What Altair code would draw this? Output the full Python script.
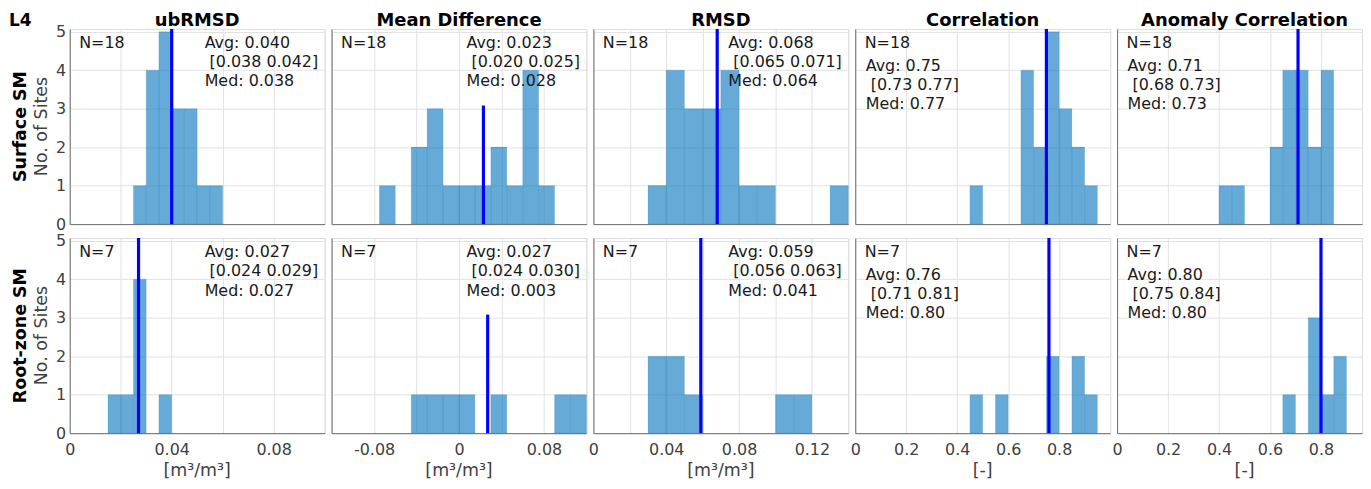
import altair as alt
import pandas as pd

FONT = "DejaVu Sans"
TXT = "#1a1a1a"
TICK = "#404040"
GRID = "#e2e2e2"
AXC = "#707070"
BAR = "#0072BD"
AVGC = "#0000FF"

model_label = "L4"
metrics = ["ubRMSD", "Mean Difference", "RMSD", "Correlation", "Anomaly Correlation"]
rows = ["Surface SM", "Root-zone SM"]
y_title = "No. of Sites"
x_units = ["[m³/m³]", "[m³/m³]", "[m³/m³]", "[-]", "[-]"]

x_domains = [[0, 0.10], [-0.12, 0.12], [0, 0.14], [0, 1.0], [0, 0.961]]
x_grid = [
    [0, 0.02, 0.04, 0.06, 0.08, 0.10],
    [-0.12, -0.08, -0.04, 0, 0.04, 0.08, 0.12],
    [0, 0.02, 0.04, 0.06, 0.08, 0.10, 0.12, 0.14],
    [0, 0.2, 0.4, 0.6, 0.8, 1.0],
    [0, 0.2, 0.4, 0.6, 0.8],
]
x_ticklabels = [
    [0, 0.04, 0.08],
    [-0.08, 0, 0.08],
    [0, 0.04, 0.08, 0.12],
    [0, 0.2, 0.4, 0.6, 0.8],
    [0, 0.2, 0.4, 0.6, 0.8],
]
y_ticks = [0, 1, 2, 3, 4, 5]
y_max = 5.07
bin_widths = [0.005, 0.015, 0.01, 0.05, 0.05]

# Surface SM histograms (bin left edges and counts)
surf_starts = [
    [0.025, 0.030, 0.035, 0.040, 0.045, 0.050, 0.055],
    [-0.075, -0.045, -0.030, -0.015, 0.000, 0.015, 0.030, 0.045, 0.060, 0.075],
    [0.03, 0.04, 0.05, 0.06, 0.07, 0.08, 0.09, 0.13],
    [0.45, 0.65, 0.70, 0.75, 0.80, 0.85, 0.90],
    [0.40, 0.45, 0.60, 0.65, 0.70, 0.75, 0.80],
]
surf_counts = [
    [1, 4, 5, 3, 3, 1, 1],
    [1, 2, 3, 1, 1, 1, 2, 1, 4, 1],
    [1, 4, 3, 3, 4, 1, 1, 1],
    [1, 4, 2, 5, 3, 2, 1],
    [1, 1, 2, 4, 4, 2, 4],
]
# Root-zone SM histograms
root_starts = [
    [0.015, 0.020, 0.025, 0.035],
    [-0.045, -0.030, -0.015, 0.000, 0.030, 0.090, 0.105],
    [0.03, 0.04, 0.05, 0.10, 0.11],
    [0.45, 0.55, 0.75, 0.85, 0.90],
    [0.65, 0.75, 0.80, 0.85],
]
root_counts = [
    [1, 1, 4, 1],
    [1, 1, 1, 1, 1, 1, 1],
    [2, 2, 1, 1, 1],
    [1, 1, 2, 2, 1],
    [1, 3, 1, 2],
]

n_sites = [18, 7]
surf_avg = [0.040, 0.023, 0.068, 0.75, 0.71]
root_avg = [0.027, 0.027, 0.059, 0.76, 0.80]
surf_avg_txt = ["0.040", "0.023", "0.068", "0.75", "0.71"]
surf_ci_txt = ["[0.038 0.042]", "[0.020 0.025]", "[0.065 0.071]", "[0.73 0.77]", "[0.68 0.73]"]
surf_med_txt = ["0.038", "0.028", "0.064", "0.77", "0.73"]
root_avg_txt = ["0.027", "0.027", "0.059", "0.76", "0.80"]
root_ci_txt = ["[0.024 0.029]", "[0.024 0.030]", "[0.056 0.063]", "[0.71 0.81]", "[0.75 0.84]"]
root_med_txt = ["0.027", "0.003", "0.041", "0.80", "0.80"]
avg_line_top = [5.07, 3.08, 5.07, 5.07, 5.07]

starts_all = [surf_starts, root_starts]
counts_all = [surf_counts, root_counts]
avg_all = [surf_avg, root_avg]
avg_txt_all = [surf_avg_txt, root_avg_txt]
ci_txt_all = [surf_ci_txt, root_ci_txt]
med_txt_all = [surf_med_txt, root_med_txt]

PANEL_W = [256, 256, 256, 256, 246]
PANEL_H = 196
ONE = pd.DataFrame({"k": [0]})


def txt(s, x, y, size=16, weight="normal", align="left", baseline="alphabetic", angle=None, color=TXT):
    kw = dict(text=s, fontSize=size, fontWeight=weight, align=align,
              baseline=baseline, color=color, font=FONT)
    if angle is not None:
        kw["angle"] = angle
    return alt.Chart(ONE).mark_text(**kw).encode(x=alt.value(x), y=alt.value(y))


def label_expr(vals):
    cond = " || ".join(f"abs(datum.value - ({v})) < 1e-6" for v in vals)
    return (f"({cond}) ? (datum.value < 0 ? '-' + format(-datum.value, '~g') "
            f": format(datum.value, '~g')) : ''")


def panel(r, c):
    w = bin_widths[c]
    st = starts_all[r][c]
    df = pd.DataFrame({
        "x0": st,
        "x1": [s + w for s in st],
        "n": counts_all[r][c],
        "base": [0] * len(st),
    })
    xs = alt.Scale(domain=x_domains[c], nice=False, zero=False)
    ys = alt.Scale(domain=[0, y_max], nice=False)
    xaxis = alt.Axis(values=x_grid[c], tickCount=50, grid=True, gridColor=GRID, gridWidth=1,
                     ticks=False, domainColor=AXC, domainWidth=1,
                     labels=(r == 1), labelExpr=label_expr(x_ticklabels[c]),
                     labelFontSize=16, labelColor=TICK, labelFont=FONT,
                     labelPadding=8, labelFlush=False, labelOverlap=False)
    yaxis = alt.Axis(values=y_ticks, tickCount=50, format="d", grid=True, gridColor=GRID,
                     gridWidth=1, ticks=False, domainColor=AXC, domainWidth=1,
                     labels=(c == 0), labelFontSize=16, labelColor=TICK,
                     labelFont=FONT, labelPadding=4, labelOverlap=False)
    bars = alt.Chart(df).mark_rect(
        fill=BAR, fillOpacity=0.6, stroke=BAR, strokeOpacity=0.25, strokeWidth=0.6
    ).encode(
        x=alt.X("x0:Q", scale=xs, axis=xaxis, title=None),
        x2="x1:Q",
        y=alt.Y("n:Q", scale=ys, axis=yaxis, title=None),
        y2="base:Q",
    )
    dfa = pd.DataFrame({"a": [avg_all[r][c]], "top": [avg_line_top[c]], "base": [0]})
    rule = alt.Chart(dfa).mark_rule(color=AVGC, strokeWidth=3.2).encode(
        x=alt.X("a:Q", title=None), y=alt.Y("top:Q", title=None), y2="base:Q"
    )
    layers = [bars, rule]
    layers.append(txt(f"N={n_sites[r]}", 9.5, 18.8))
    if c < 3:
        sx, sys = 135.5, [18.8, 38.3, 57.8]
    else:
        sx, sys = 10.5, [42.1, 61.4, 80.6]
    layers.append(txt(f"Avg: {avg_txt_all[r][c]}", sx, sys[0]))
    layers.append(txt(ci_txt_all[r][c], sx + 5, sys[1]))
    layers.append(txt(f"Med: {med_txt_all[r][c]}", sx, sys[2]))
    if r == 0:
        layers.append(txt(metrics[c], 128, -2.5, size=18, weight="bold",
                          align="center", color="#000000"))
    if r == 1:
        layers.append(txt(x_units[c], 128, 239, size=17.5, align="center", color=TICK))
    if c == 0:
        layers.append(txt(rows[r], -44.3, PANEL_H / 2, size=17.5, weight="bold",
                          align="center", angle=270, color="#000000"))
        layers.append(txt(y_title, -22.6, PANEL_H / 2, size=17.5,
                          align="center", angle=270, color=TICK))
        if r == 0:
            layers.append(txt(model_label, -61, -2.5, size=17, weight="bold",
                              color="#000000"))
    return alt.layer(*layers).properties(width=PANEL_W[c], height=PANEL_H)


panels = [panel(r, c) for r in range(2) for c in range(5)]

chart = alt.ConcatChart(
    concat=panels, columns=5, spacing={"row": 14, "column": 7}, bounds="flush"
).properties(
    padding={"top": 3, "left": 0, "right": 0, "bottom": 0}
).configure_view(strokeWidth=0).configure(font=FONT)

chart.save("out.html", embed_options={"renderer": "svg", "actions": False})
